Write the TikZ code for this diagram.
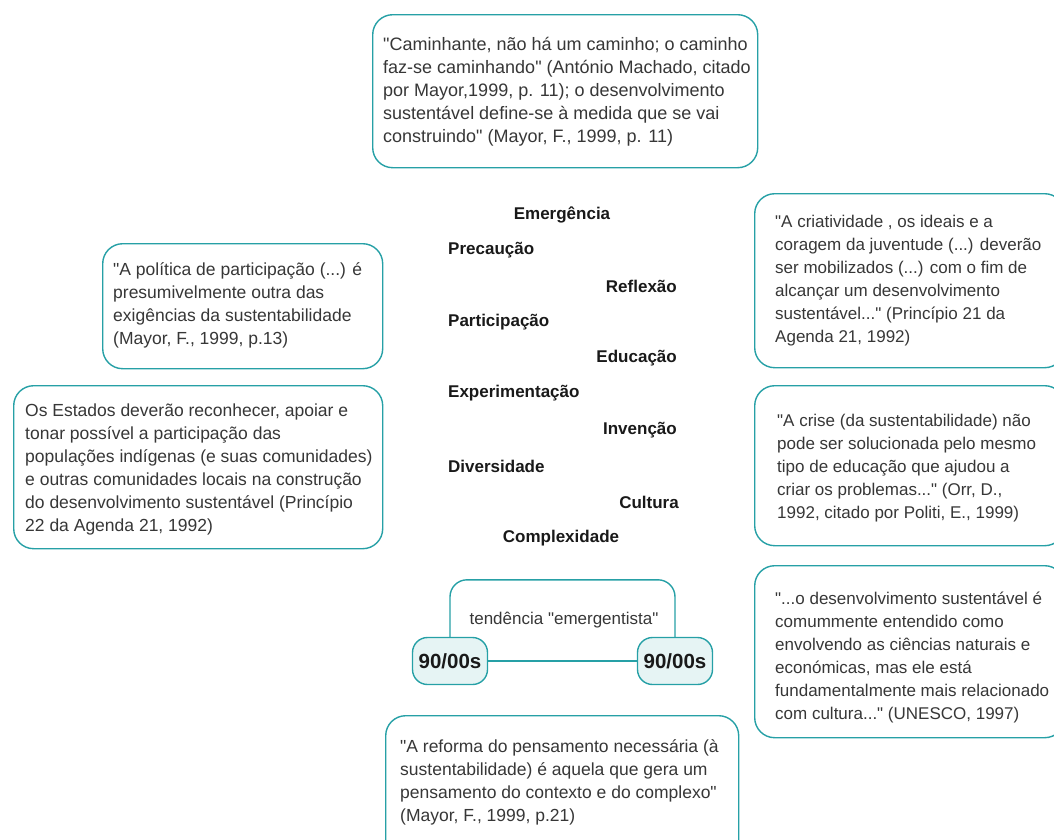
\documentclass[tikz,border=0pt]{standalone}
\usepackage{fontspec}
\setmainfont{Liberation Sans}[Ligatures=TeXOff]
\definecolor{teal1}{RGB}{38,160,166}
\definecolor{fill1}{RGB}{230,244,244}
\definecolor{txt}{RGB}{55,55,55}
\definecolor{lab}{RGB}{25,25,25}
\tikzset{
 quotebox/.style={draw=teal1, line width=1.4pt, rounded corners=20pt, fill=white, anchor=north west, inner sep=0pt},
 quotetext/.style={anchor=west, align=left, inner sep=0pt, text=txt, font=\fontsize{17.5}{23}\selectfont},
 narrowtext/.style={quotetext, font=\fontsize{17}{23}\selectfont},
 keyword/.style={inner sep=0pt, text=lab, font=\bfseries\fontsize{17}{20}\selectfont},
 era/.style={draw=teal1, fill=fill1, line width=1.4pt, rounded corners=15pt, minimum width=75pt, minimum height=47pt, inner sep=0pt, font=\bfseries\fontsize{20.5}{24}\selectfont, text=lab},
 link/.style={draw=teal1, line width=1.4pt},
}
\begin{document}
\begin{tikzpicture}[x=1pt,y=-1pt]
\useasboundingbox (0,0) rectangle (1054,839);
\clip (0,0) rectangle (1054,839);

% quote boxes
\node[quotebox, minimum width=385pt, minimum height=153pt] (btop) at (372,14) {};
\node[quotetext, font=\fontsize{18}{23}\selectfont] (ttop) at (383,92) {"Caminhante, não há um caminho; o caminho\\faz-se caminhando" (António Machado, citado\\por Mayor,1999, p. 11); o desenvolvimento\\sustentável define-se à medida que se vai\\construindo" (Mayor, F., 1999, p. 11)};

\node[quotebox, minimum width=280pt, minimum height=125pt] (bl1) at (102,243) {};
\node[quotetext] (tl1) at (113,305) {"A política de participação (...) é\\presumivelmente outra das\\exigências da sustentabilidade\\(Mayor, F., 1999, p.13)};

\node[quotebox, minimum width=369pt, minimum height=163pt] (bl2) at (13,385) {};
\node[quotetext] (tl2) at (25,469) {Os Estados deverão reconhecer, apoiar e\\tonar possível a participação das\\populações indígenas (e suas comunidades)\\e outras comunidades locais na construção\\do desenvolvimento sustentável (Princípio\\22 da Agenda 21, 1992)};

\node[quotebox, minimum width=310pt, minimum height=174pt] (br1) at (754,193) {};
\node[narrowtext] (tr1) at (775,281) {"A criatividade , os ideais e a\\coragem da juventude (...) deverão\\ser mobilizados (...) com o fim de\\alcançar um desenvolvimento\\sustentável..." (Princípio 21 da\\Agenda 21, 1992)};

\node[quotebox, minimum width=310pt, minimum height=160pt] (br2) at (754,385) {};
\node[narrowtext] (tr2) at (777,468) {"A crise (da sustentabilidade) não\\pode ser solucionada pelo mesmo\\tipo de educação que ajudou a\\criar os problemas..." (Orr, D.,\\1992, citado por Politi, E., 1999)};

\node[quotebox, minimum width=310pt, minimum height=172pt] (br3) at (754,565) {};
\node[narrowtext] (tr3) at (775,657) {"...o desenvolvimento sustentável é\\comummente entendido como\\envolvendo as ciências naturais e\\económicas, mas ele está\\fundamentalmente mais relacionado\\com cultura..." (UNESCO, 1997)};

\node[quotebox, minimum width=353pt, minimum height=150pt] (bbot) at (385,715) {};
\node[quotetext] (tbot) at (400,782) {"A reforma do pensamento necessária (à\\sustentabilidade) é aquela que gera um\\pensamento do contexto e do complexo"\\(Mayor, F., 1999, p.21)};

% keywords
\node[keyword] (k1) at (562,215) {Emergência};
\node[keyword, anchor=west] (k2) at (448,250) {Precaução};
\node[keyword, anchor=east] (k3) at (677,286) {Reflexão};
\node[keyword, anchor=west] (k4) at (448,322) {Participação};
\node[keyword, anchor=east] (k5) at (677,358) {Educação};
\node[keyword, anchor=west] (k6) at (448,393) {Experimentação};
\node[keyword, anchor=east] (k7) at (677,430) {Invenção};
\node[keyword, anchor=west] (k8) at (448,466) {Diversidade};
\node[keyword, anchor=east] (k9) at (679,502) {Cultura};
\node[keyword] (k10) at (561,538) {Complexidade};

% tendency frame
\node[minimum height=80pt, inner sep=0pt, text=txt, font=\fontsize{17}{20}\selectfont] (tend) at (564,620) {tendência "emergentista"};
\node[era] (e1) at (450,661) {90/00s};
\node[era] (e2) at (675,661) {90/00s};
\draw[link, rounded corners=17pt] (e1.north) |- (tend.north) -| (e2.north);
\draw[link] (e1.east) -- (e2.west);
\end{tikzpicture}
\end{document}
